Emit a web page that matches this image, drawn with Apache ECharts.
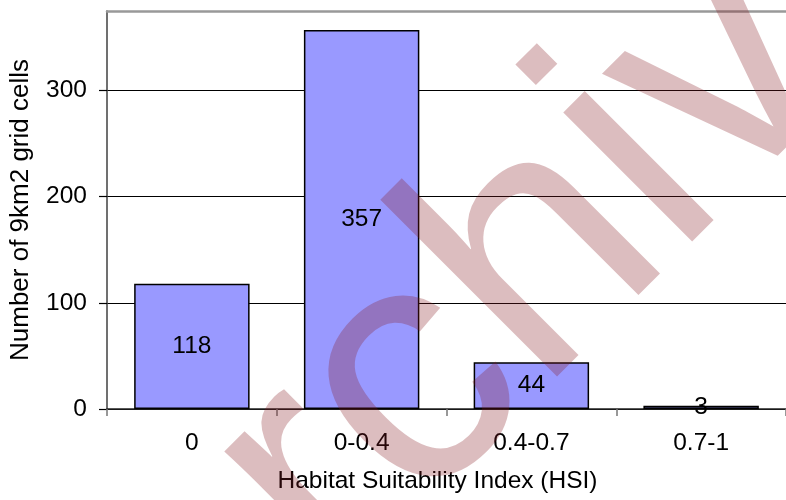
<!DOCTYPE html>
<html>
<head>
<meta charset="utf-8">
<script src="https://cdn.jsdelivr.net/npm/echarts@6/dist/echarts.min.js"></script>
<style>
  html, body { margin: 0; padding: 0; background: #fff; }
  #chart { width: 786px; height: 500px; }
</style>
</head>
<body>
<div id="chart"></div>
<script>
// HSI classes and number of 9 km² grid cells in each
const categories = ['0', '0-0.4', '0.4-0.7', '0.7-1'];
const cellCounts = [118, 357, 44, 3];
const yTicks = [0, 100, 200, 300];

const FONT = 'Liberation Sans, Arial, sans-serif';

const chart = echarts.init(document.getElementById('chart'), null, { renderer: 'canvas' });

chart.setOption({
  animation: false,
  backgroundColor: '#ffffff',
  grid: { left: 107, top: 11, width: 685, bottom: 91, containLabel: false },
  xAxis: [
    {
      type: 'category',
      data: categories,
      position: 'bottom',
      name: 'Habitat Suitability Index (HSI)',
      nameLocation: 'middle',
      nameGap: 60,
      nameTextStyle: { fontFamily: FONT, fontSize: 24.5, color: '#000', padding: [0, 18, 0, 0] },
      axisLine: { lineStyle: { color: '#222', width: 1.5 } },
      axisTick: { show: true, length: 7, lineStyle: { color: '#777', width: 1.5 } },
      axisLabel: { fontFamily: FONT, fontSize: 24.5, color: '#000', margin: 22 },
      splitLine: { show: false }
    },
    {
      // top frame line of the plot area
      type: 'category',
      data: categories,
      position: 'top',
      axisLine: { lineStyle: { color: '#999', width: 2.5 } },
      axisTick: { show: false },
      axisLabel: { show: false },
      splitLine: { show: false }
    }
  ],
  yAxis: {
    type: 'value',
    min: 0,
    max: 375,
    interval: 100,
    name: 'Number of 9km2 grid cells',
    nameLocation: 'middle',
    nameGap: 73,
    nameTextStyle: { fontFamily: FONT, fontSize: 26, color: '#000' },
    axisLine: { show: true, lineStyle: { color: '#404040', width: 1.5 } },
    axisTick: { show: true, length: 8, lineStyle: { color: '#000', width: 1.2 } },
    axisLabel: {
      fontFamily: FONT, fontSize: 24.5, color: '#000', margin: 20,
      showMaxLabel: false,
      formatter: v => (yTicks.includes(v) ? String(v) : '')
    },
    splitLine: { show: true, showMaxLine: false, lineStyle: { color: '#000', width: 1.2 } }
  },
  series: [
    {
      type: 'bar',
      data: cellCounts,
      xAxisIndex: 0,
      barWidth: '68%',
      itemStyle: { color: '#9999ff', borderColor: '#000', borderWidth: 1.5 },
      label: {
        show: true,
        position: 'inside',
        fontFamily: FONT,
        fontSize: 24.5,
        color: '#000'
      },
      z: 3
    }
  ],
  graphic: [
    {
      // diagonal watermark across the figure
      type: 'text',
      x: 134,
      y: 665,
      rotation: Math.PI / 4,
      z: 100,
      silent: true,
      style: {
        text: 'archive',
        font: 'normal 345px "Liberation Sans", Arial, sans-serif',
        fill: 'rgba(132, 26, 33, 0.285)',
        textAlign: 'left',
        textVerticalAlign: 'middle'
      }
    }
  ]
});
</script>
</body>
</html>
